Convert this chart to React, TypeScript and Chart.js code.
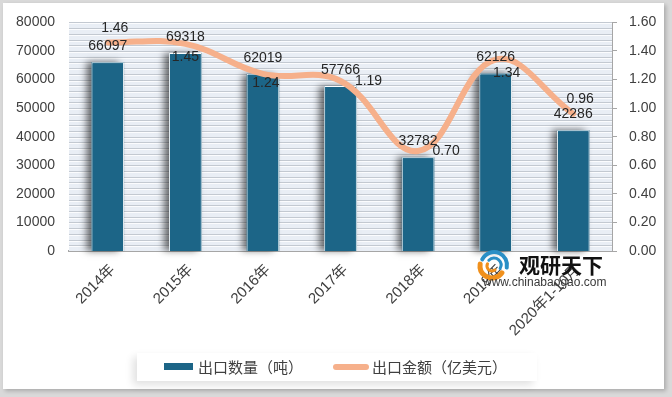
import React, { useEffect, useRef } from "react";
import { Chart, registerables } from "chart.js";

Chart.register(...registerables);

// ---- data ----
const categories = ["2014年", "2015年", "2016年", "2017年", "2018年", "2019年", "2020年1-10月"];
const exportVolume = [66097, 69318, 62019, 57766, 32782, 62126, 42286]; // 出口数量（吨）
const exportValue = [1.46, 1.45, 1.24, 1.19, 0.7, 1.34, 0.96]; // 出口金额（亿美元）
const volumeLabel = "出口数量（吨）";
const valueLabel = "出口金额（亿美元）";
const volumeRange = [0, 80000, 10000];
const valueRange = [0, 1.6, 0.2];
const stripeStep = 2000;

// ---- styles ----
const BAR_COLOR = "#1c6587";
const LINE_COLOR = "#f6b08b";
const TICK_COLOR = "#404040";
const LABEL_COLOR = "#262626";
const FONT = "'Liberation Sans', 'Noto Sans CJK SC', sans-serif";
const CJK = "'Noto Sans CJK SC', sans-serif";
// label offsets for line data labels (dx, dy) relative to the point
const lineLabelOffsets = [
  [7, -14],
  [0, 13],
  [3, 9],
  [28, 0],
  [28, 0],
  [11, 14],
  [7, -15],
];

const stripesPlugin = {
  id: "stripes",
  beforeDatasetsDraw(chart: any) {
    const { ctx, chartArea } = chart;
    const y = chart.scales.y;
    ctx.save();
    ctx.fillStyle = "#e9eef5";
    ctx.fillRect(chartArea.left, chartArea.top, chartArea.right - chartArea.left, chartArea.bottom - chartArea.top);
    for (let v = volumeRange[0] + stripeStep; v <= volumeRange[1]; v += stripeStep) {
      const py = Math.round(y.getPixelForValue(v));
      ctx.fillStyle = "#c3c9d1";
      ctx.fillRect(chartArea.left, py, chartArea.right - chartArea.left, 1);
      ctx.fillStyle = "#fbfcfe";
      ctx.fillRect(chartArea.left, py + 1, chartArea.right - chartArea.left, 1);
    }
    // bar shadows
    const meta = chart.getDatasetMeta(0);
    meta.data.forEach((el: any) => {
      const w = el.width;
      ctx.save();
      ctx.shadowColor = "rgba(0,0,0,0.55)";
      ctx.shadowBlur = 7;
      ctx.shadowOffsetX = -5;
      ctx.shadowOffsetY = 0;
      ctx.fillStyle = BAR_COLOR;
      ctx.fillRect(el.x - w / 2, el.y, w, el.base - el.y);
      ctx.restore();
    });
    ctx.restore();
  },
};

const labelsPlugin = {
  id: "dataLabels",
  afterDatasetsDraw(chart: any) {
    const { ctx } = chart;
    ctx.save();
    ctx.font = `14px ${FONT}`;
    ctx.fillStyle = LABEL_COLOR;
    ctx.textAlign = "center";
    ctx.textBaseline = "middle";
    const barMeta = chart.getDatasetMeta(0);
    barMeta.data.forEach((el: any, i: number) => {
      ctx.fillText(String(exportVolume[i]), el.x, el.y - 16);
    });
    const lineMeta = chart.getDatasetMeta(1);
    lineMeta.data.forEach((el: any, i: number) => {
      const [dx, dy] = lineLabelOffsets[i];
      ctx.fillText(exportValue[i].toFixed(2), el.x + dx, el.y + dy);
    });
    ctx.restore();
  },
};

const watermarkPlugin = {
  id: "watermark",
  afterDraw(chart: any) {
    const { ctx } = chart;
    ctx.save();
    // logo
    ctx.lineCap = "round";
    ctx.strokeStyle = "#2a8fc6";
    ctx.lineWidth = 4;
    ctx.beginPath();
    ctx.arc(494, 265, 13, -2.7, 0.2);
    ctx.stroke();
    ctx.lineWidth = 3;
    ctx.beginPath();
    ctx.arc(494, 265, 7, -2.4, 0.5);
    ctx.stroke();
    ctx.strokeStyle = "#f0901c";
    ctx.lineWidth = 5;
    ctx.beginPath();
    ctx.arc(492, 266, 12, 0.6, 3.3);
    ctx.stroke();
    ctx.lineWidth = 3;
    ctx.beginPath();
    ctx.arc(492, 266, 5, 0.9, 3.6);
    ctx.stroke();
    // text
    ctx.fillStyle = "#111";
    ctx.font = `bold 21px ${CJK}`;
    ctx.textAlign = "left";
    ctx.textBaseline = "middle";
    ctx.fillText("观研天下", 519, 265);
    ctx.fillStyle = "#3a3a3a";
    ctx.font = `12px ${FONT}`;
    ctx.fillText("www.chinabaogao.com", 483, 283);
    ctx.restore();
  },
};

export default function App() {
  const ref = useRef<HTMLCanvasElement | null>(null);
  useEffect(() => {
    if (!ref.current) return;
    const chart = new Chart(ref.current, {
      type: "bar",
      data: {
        labels: categories,
        datasets: [
          {
            type: "bar",
            label: volumeLabel,
            data: exportVolume,
            backgroundColor: BAR_COLOR,
            borderColor: "#ffffff",
            borderWidth: 1,
            barPercentage: 0.42,
            categoryPercentage: 1,
            yAxisID: "y",
            order: 1,
          } as any,
          {
            type: "line",
            label: valueLabel,
            data: exportValue,
            borderColor: LINE_COLOR,
            borderWidth: 6,
            borderCapStyle: "round",
            tension: 0.4,
            pointRadius: 0,
            yAxisID: "y1",
            order: 0,
          } as any,
        ],
      },
      options: {
        responsive: false,
        animation: false,
        layout: { padding: { top: 21, left: 0, right: 0, bottom: 0 } },
        plugins: { legend: { display: false }, tooltip: { enabled: false } },
        scales: {
          x: {
            grid: { display: false, drawTicks: false },
            border: { display: true, color: "#a6a6a6", width: 2 },
            ticks: {
              minRotation: 45,
              maxRotation: 45,
              color: TICK_COLOR,
              font: { family: FONT, size: 15 },
              padding: 10,
              labelOffset: 5,
            },
            afterFit: (s: any) => {
              s.height = 146;
            },
          },
          y: {
            position: "left",
            min: volumeRange[0],
            max: volumeRange[1],
            grid: { display: false, drawTicks: false },
            border: { display: false },
            ticks: {
              stepSize: volumeRange[2],
              color: TICK_COLOR,
              font: { family: FONT, size: 14 },
              padding: 14,
              callback: (v: any) => String(v),
            },
            afterFit: (s: any) => {
              s.width = 69;
            },
          },
          y1: {
            position: "right",
            min: valueRange[0],
            max: valueRange[1],
            grid: { drawOnChartArea: false, drawTicks: true, tickLength: 5, color: "#a6a6a6" },
            border: { display: true, color: "#a6a6a6", width: 1 },
            ticks: {
              stepSize: valueRange[2],
              color: TICK_COLOR,
              font: { family: FONT, size: 14 },
              padding: 12,
              callback: (v: any) => Number(v).toFixed(2),
            },
            afterFit: (s: any) => {
              s.width = 60;
            },
          },
        },
      } as any,
      plugins: [stripesPlugin, labelsPlugin, watermarkPlugin],
    });
    return () => chart.destroy();
  }, []);

  const legendText: React.CSSProperties = {
    position: "absolute",
    top: 357,
    height: 20,
    lineHeight: "20px",
    fontFamily: CJK,
    fontSize: 15,
    color: "#404040",
    whiteSpace: "nowrap",
  };

  return (
    <div style={{ position: "fixed", left: 0, top: 0, width: 672, height: 397, background: "#d9d9d9", overflow: "hidden" }}>
      <div
        style={{
          position: "absolute",
          left: 3,
          top: 3,
          width: 661,
          height: 386,
          background: "#ffffff",
          boxShadow: "2px 2px 4px rgba(0,0,0,0.22)",
        }}
      />
      <canvas ref={ref} width={672} height={397} style={{ position: "absolute", left: 0, top: 0 }} />
      <div
        style={{
          position: "absolute",
          left: 137,
          top: 353,
          width: 400,
          height: 28,
          background: "#ffffff",
          boxShadow: "-4px 4px 8px rgba(0,0,0,0.12)",
        }}
      />
      <div style={{ position: "absolute", left: 164, top: 363, width: 29, height: 7, background: BAR_COLOR }} />
      <div style={{ ...legendText, left: 198 }}>{volumeLabel}</div>
      <div style={{ position: "absolute", left: 333, top: 364, width: 36, height: 6, borderRadius: 3, background: LINE_COLOR }} />
      <div style={{ ...legendText, left: 372 }}>{valueLabel}</div>
    </div>
  );
}
